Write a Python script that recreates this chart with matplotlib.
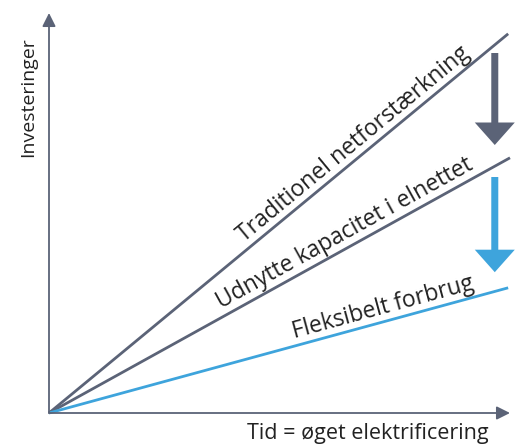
import numpy as np
import matplotlib
matplotlib.use("Agg")
import matplotlib.pyplot as plt

# --- data (normalised: x = tid, y = investeringer) ---
line_names = ["Traditionel netforstærkning", "Udnytte kapacitet i elnettet", "Fleksibelt forbrug"]
line_x_end = [0.996, 1.0, 0.996]
line_y_end = [0.948, 0.638, 0.313]
line_colors = ["#5b6377", "#5b6377", "#3ea4dc"]
label_pos = [0.68, 0.655, 0.735]   # fraction along the line for the label centre

arrow_x = [0.967, 0.967]
arrow_y_start = [0.90, 0.59]
arrow_y_end = [0.67, 0.352]
arrow_colors = ["#5b6377", "#3ea4dc"]

x_label = "Tid = øget elektrificering"
y_label = "Investeringer"

W, H = 520, 447
fig = plt.figure(figsize=(W / 100, H / 100), dpi=100)
ax = fig.add_axes([0, 0, 1, 1])
# origin at pixel (49, 413), x=1 at 510 px, y=1 at 13 px
ax.set_xlim(-49 / 461, (W - 49) / 461)
ax.set_ylim(-(H - 413) / 400, 413 / 400)
ax.axis("off")

font = ["Open Sans", "DejaVu Sans"]
axis_col = "#5b6377"

# axes with arrow heads
ax.annotate("", xy=(1.0, 0), xytext=(0, 0),
            arrowprops=dict(arrowstyle="-|>,head_length=0.8,head_width=0.4",
                            color=axis_col, lw=1.3, shrinkA=0, shrinkB=0))
ax.annotate("", xy=(0, 1.0), xytext=(0, 0),
            arrowprops=dict(arrowstyle="-|>,head_length=0.8,head_width=0.4",
                            color=axis_col, lw=1.3, shrinkA=0, shrinkB=0))

ax.text(0.953, -0.025, x_label, ha="right", va="top", fontsize=15.5,
        family=font, color="#222222")
ax.text(-0.046, 0.79, y_label, ha="center", va="center", rotation=90,
        fontsize=14, family=font, color="#222222")

fig.canvas.draw()
for name, xe, ye, c, f in zip(line_names, line_x_end, line_y_end, line_colors, label_pos):
    ax.plot([0, xe], [0, ye], color=c, lw=2, solid_capstyle="butt")
    p0 = ax.transData.transform((0, 0))
    p1 = ax.transData.transform((xe, ye))
    ang = np.degrees(np.arctan2(p1[1] - p0[1], p1[0] - p0[0]))
    ax.annotate(name, xy=(xe * f, ye * f), xytext=(0, 1.5), textcoords="offset points",
                ha="center", va="bottom", rotation=ang, rotation_mode="anchor",
                fontsize=16.5, family=font, color="#222222")

for xa, ys, ye, c in zip(arrow_x, arrow_y_start, arrow_y_end, arrow_colors):
    ax.annotate("", xy=(xa, ye), xytext=(xa, ys),
                arrowprops=dict(arrowstyle="simple,head_length=0.9,head_width=1.6,tail_width=0.28",
                                color=c, lw=0, shrinkA=0, shrinkB=0, mutation_scale=18))

fig.savefig("out.png", dpi=100)
